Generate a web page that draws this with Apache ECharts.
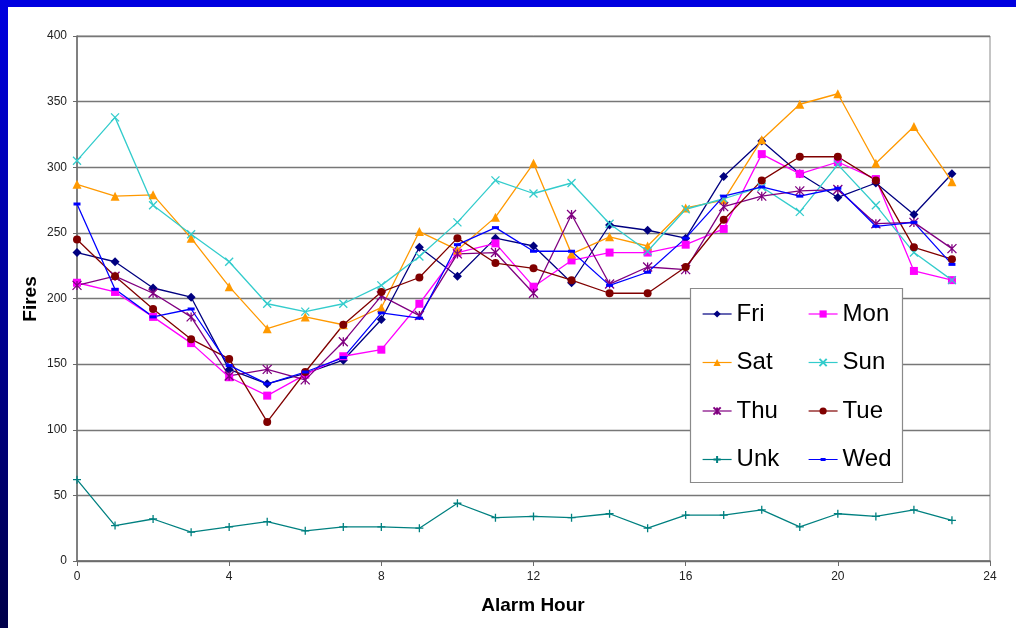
<!DOCTYPE html>
<html>
<head>
<meta charset="utf-8">
<script src="https://cdn.jsdelivr.net/npm/echarts@6/dist/echarts.min.js"></script>
<style>
  html, body { margin: 0; padding: 0; background: #ffffff; }
  #chart { width: 1016px; height: 628px; }
</style>
</head>
<body>
<div id="chart"></div>
<script>
// Alarm hour of day (x) and number of fires per weekday
const hours = [0, 1, 2, 3, 4, 5, 6, 7, 8, 9, 10, 11, 12, 13, 14, 15, 16, 17, 18, 19, 20, 21, 22, 23];
const yTicks = [0, 50, 100, 150, 200, 250, 300, 350, 400];
const xTicks = [0, 4, 8, 12, 16, 20, 24];

const fri = [235, 228, 208, 201, 146, 135, 143, 153, 184, 239, 217, 246, 240, 212, 256, 252, 246, 293, 320, 295, 277, 288, 264, 295];
const mon = [212, 205, 186, 166, 140, 126, 142, 156, 161, 196, 235, 242, 209, 229, 235, 235, 241, 253, 310, 295, 304, 291, 221, 214];
const sat = [287, 278, 279, 246, 209, 177, 186, 180, 193, 251, 237, 262, 303, 234, 247, 240, 269, 275, 321, 348, 356, 303, 331, 289];
const sun = [305, 338, 271, 249, 228, 196, 190, 196, 210, 232, 258, 290, 280, 288, 257, 236, 268, 276, 285, 266, 302, 271, 235, 214];
const thu = [210, 217, 204, 186, 141, 146, 138, 167, 202, 187, 234, 235, 204, 264, 211, 224, 222, 270, 278, 282, 283, 257, 258, 238];
const tue = [245, 217, 192, 169, 154, 106, 144, 180, 205, 216, 246, 227, 223, 214, 204, 204, 224, 260, 290, 308, 308, 290, 239, 230];
const unk = [62, 27, 32, 22, 26, 30, 23, 26, 26, 25, 44, 33, 34, 33, 36, 25, 35, 35, 39, 26, 36, 34, 39, 31];
const wed = [272, 207, 186, 192, 149, 135, 144, 155, 189, 185, 241, 254, 236, 236, 210, 220, 246, 278, 285, 278, 284, 255, 258, 226];

const dayNames = ['Fri', 'Mon', 'Sat', 'Sun', 'Thu', 'Tue', 'Unk', 'Wed'];
const dayValues = [fri, mon, sat, sun, thu, tue, unk, wed];
const dayColors = ['#000080', '#ff00ff', '#ff9900', '#33cccc', '#800080', '#800000', '#008080', '#0000ff'];
const daySymbols = [
  'diamond',
  'rect',
  'triangle',
  'path://M0,0L10,10M10,0L0,10',
  'path://M0,0L10,10M10,0L0,10M5,0L5,10',
  'circle',
  'path://M5,0L5,10M0,5L10,5',
  'rect'
];
const daySymbolSizes = [9, 8, 9, 8, 9, 8, 8, [7, 3]];
const strokeSymbols = [false, false, false, true, true, false, true, false];

const chart = echarts.init(document.getElementById('chart'), null, { renderer: 'canvas' });

const series = dayNames.map((name, i) => ({
  name: name,
  type: 'line',
  data: hours.map((h, k) => [h, dayValues[i][k]]),
  symbol: daySymbols[i],
  symbolSize: daySymbolSizes[i],
  showAllSymbol: true,
  lineStyle: { color: dayColors[i], width: 1.3 },
  itemStyle: strokeSymbols[i]
    ? { color: dayColors[i], borderColor: dayColors[i], borderWidth: 1.3 }
    : { color: dayColors[i], borderWidth: 0 },
  emphasis: { disabled: true },
  animation: false,
  z: 3
}));

// the Wed marker is a short dash, so its legend icon is a flat line with a small dash
const legendItem = (name) => {
  const i = dayNames.indexOf(name);
  return i === 7
    ? { name: name, icon: 'path://M0,4.4L29,4.4L29,5.6L0,5.6ZM12,3.6L17,3.6L17,6.4L12,6.4Z', itemStyle: { color: dayColors[i], borderWidth: 0 } }
    : { name: name };
};

const legendCommon = {
  orient: 'vertical',
  padding: 0,
  itemWidth: 29,
  itemHeight: 9,
  itemGap: 18.5,
  textStyle: { fontFamily: 'Arial, "Liberation Sans", sans-serif', fontSize: 24, color: '#000', lineHeight: 30 },
  lineStyle: { width: 1.2 },
  selectedMode: false,
  z: 10
};

chart.setOption({
  backgroundColor: '#ffffff',
  animation: false,
  grid: {
    left: 77, right: 26, top: 36, bottom: 67,
    show: true, borderColor: '#8a8a8a', borderWidth: 1, backgroundColor: 'transparent'
  },
  xAxis: {
    type: 'value',
    min: xTicks[0], max: xTicks[xTicks.length - 1], interval: 4,
    axisLine: { show: true, lineStyle: { color: '#6a6a6a', width: 1.5 } },
    axisTick: { show: true, inside: false, length: 5, lineStyle: { color: '#6a6a6a' } },
    axisLabel: { color: '#222', fontSize: 12, fontFamily: 'Arial, "Liberation Sans", sans-serif', margin: 10 },
    splitLine: { show: false }
  },
  yAxis: {
    type: 'value',
    min: yTicks[0], max: yTicks[yTicks.length - 1], interval: 50,
    axisLine: { show: true, lineStyle: { color: '#6a6a6a', width: 1.5 } },
    axisTick: { show: true, inside: false, length: 4, lineStyle: { color: '#6a6a6a' } },
    axisLabel: { color: '#222', fontSize: 12, fontFamily: 'Arial, "Liberation Sans", sans-serif', margin: 10 },
    splitLine: { show: true, lineStyle: { color: '#777', width: 1.3 } }
  },
  legend: [
    Object.assign({}, legendCommon, { left: 702, top: 299, data: ['Fri', 'Sat', 'Thu', 'Unk'].map(legendItem) }),
    Object.assign({}, legendCommon, { left: 808, top: 299, data: ['Mon', 'Sun', 'Tue', 'Wed'].map(legendItem) })
  ],
  graphic: [
    // blue frame around the slide
    { type: 'rect', shape: { x: 0, y: 0, width: 1016, height: 7 }, style: { fill: '#0000e0' }, z: 20, silent: true },
    {
      type: 'rect', shape: { x: 0, y: 0, width: 8, height: 628 }, z: 20, silent: true,
      style: {
        fill: new echarts.graphic.LinearGradient(0, 0, 0, 1, [
          { offset: 0, color: '#0000e0' },
          { offset: 1, color: '#00004a' }
        ])
      }
    },
    // legend box
    { type: 'rect', shape: { x: 690.5, y: 288.5, width: 212, height: 194 }, style: { fill: '#ffffff', stroke: '#8a8a8a', lineWidth: 1.2 }, z: 9, silent: true },
    // axis titles
    {
      type: 'text', x: 533, y: 606, z: 5, silent: true,
      style: { text: 'Alarm Hour', fill: '#000', font: 'bold 19px Arial, "Liberation Sans", sans-serif', textAlign: 'center', textVerticalAlign: 'middle' }
    },
    {
      type: 'text', x: 31, y: 299, rotation: Math.PI / 2, z: 5, silent: true,
      style: { text: 'Fires', fill: '#000', font: 'bold 19px Arial, "Liberation Sans", sans-serif', textAlign: 'center', textVerticalAlign: 'middle' }
    }
  ],
  series: series
});
</script>
</body>
</html>
